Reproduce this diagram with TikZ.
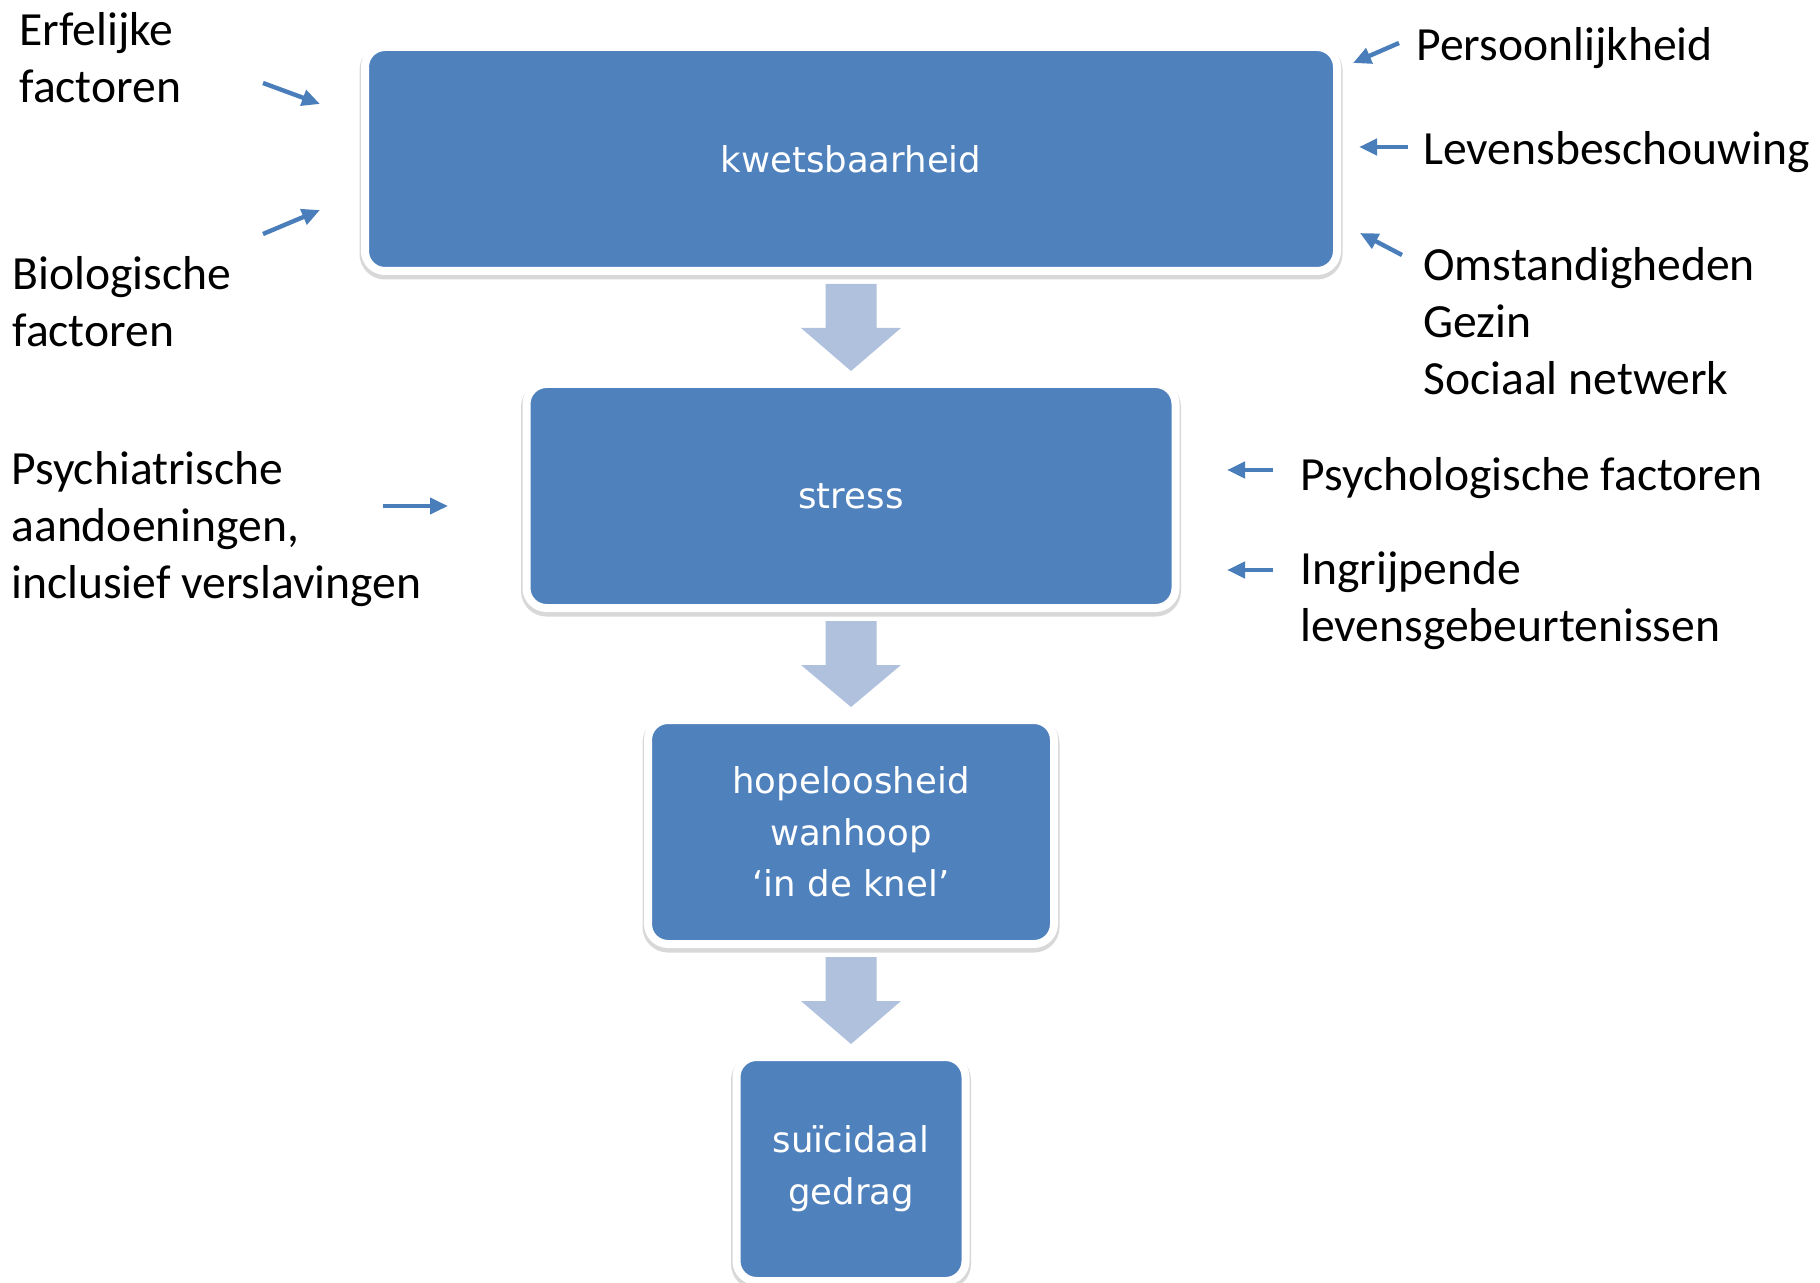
\documentclass[tikz,border=0pt]{standalone}
\usepackage{fontspec}
\setmainfont{Carlito}
\newfontfamily\boxfont{DejaVu Sans}
\usetikzlibrary{arrows.meta,shadows,calc}
\definecolor{boxblue}{HTML}{4F81BD}
\definecolor{arrowpale}{HTML}{B0C1DE}
\definecolor{arrowblue}{HTML}{4A7EBB}
\newcommand\flowarrow[2]{\fill[blk] ($(#1.south)+(-25.5,13)$) -- ++(51,0) -- ++(0,44) -- ++(24.5,0) -- ($(#2.north)+(0,-13)$) -- ($(#1.south)+(-50,57)$) -- ++(24.5,0) -- cycle;}
\begin{document}
\begin{tikzpicture}[x=0.5pt,y=-0.5pt,
 flowbox/.style={rectangle, rounded corners=10pt, fill=boxblue, draw=white, line width=4pt, text=white,
   font=\boxfont\fontsize{17.75}{25.85}\selectfont, align=center, minimum height=112pt, inner sep=0pt, outer sep=0pt,
   drop shadow={shadow xshift=0pt, shadow yshift=-1.5pt, opacity=0.25, fill=black!60, draw=black!60, line width=5.5pt}},
 lbl/.style={anchor=base west, inner sep=0pt, align=left, font=\fontsize{23.8}{28.5}\selectfont, text=black},
 infl/.style={draw=arrowblue, line width=2.2pt, -{Triangle[length=9pt,width=8pt]}},
 blk/.style={fill=arrowpale}]
\fill[white] (0,0) rectangle (1820,1283);
\path[use as bounding box] (0,0) rectangle (1820,1283);

% main boxes
\node[flowbox, minimum width=486pt] (k) at (851,159) {kwetsbaarheid};
\node[flowbox, minimum width=324.5pt] (s) at (851,496) {stress};
\node[flowbox, minimum width=203pt] (h) at (851,832) {hopeloosheid\\wanhoop\\‘in de knel’};
\node[flowbox, minimum width=114.5pt] (g) at (851,1169) {suïcidaal\\gedrag};

% block arrows
\flowarrow{k}{s}
\flowarrow{s}{h}
\flowarrow{h}{g}

% labels (base = baseline of last line)
\node[lbl] (erf) at (19,103) {Erfelijke\\factoren};
\node[lbl] (bio) at (12,347) {Biologische\\factoren};
\node[lbl] (pers) at (1416,61) {Persoonlijkheid};
\node[lbl] (lev) at (1423,165) {Levensbeschouwing};
\node[lbl] (oms) at (1423,395) {Omstandigheden\\Gezin\\Sociaal netwerk};
\node[lbl] (psl) at (1300,490) {Psychologische factoren};
\node[lbl] (ing) at (1300,641) {Ingrijpende\\levensgebeurtenissen};
\node[lbl] (psa) at (11,598) {Psychiatrische\\aandoeningen,\\inclusief verslavingen};

% influence arrows
\coordinate (erfA) at (263,83);  \coordinate (erfB) at (320,104);
\coordinate (bioA) at (263,234); \coordinate (bioB) at (320,210);
\coordinate (persA) at (1399,43); \coordinate (persB) at (1353,63);
\coordinate (levA) at (1408,147); \coordinate (levB) at (1359,147);
\coordinate (omsA) at (1402,255); \coordinate (omsB) at (1360,233);
\coordinate (pslA) at (1273,470); \coordinate (pslB) at (1227,470);
\coordinate (ingA) at (1273,570); \coordinate (ingB) at (1227,570);
\coordinate (psaA) at (383,506); \coordinate (psaB) at (448,506);
\draw[infl] (erfA) -- (erfB);
\draw[infl] (bioA) -- (bioB);
\draw[infl] (persA) -- (persB);
\draw[infl] (levA) -- (levB);
\draw[infl] (omsA) -- (omsB);
\draw[infl] (pslA) -- (pslB);
\draw[infl] (ingA) -- (ingB);
\draw[infl] (psaA) -- (psaB);
\end{tikzpicture}
\end{document}
